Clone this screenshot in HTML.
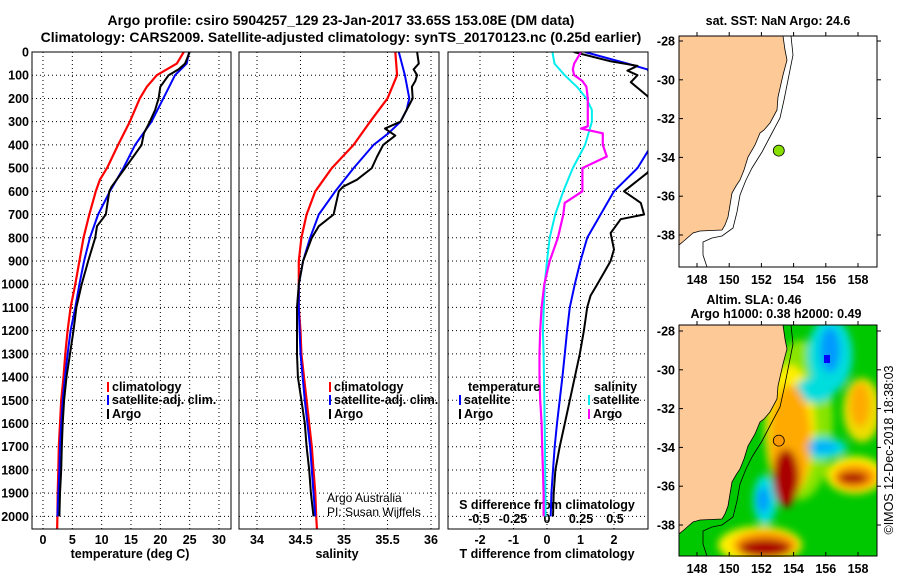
<!DOCTYPE html>
<html><head><meta charset="utf-8"><style>
html,body{margin:0;padding:0;background:#fff;}
svg{display:block;font-family:"Liberation Sans",sans-serif;}
.b{font-weight:bold;font-size:12.5px;}
</style></head><body>
<svg id="c" width="900" height="580" viewBox="0 0 900 580" xmlns="http://www.w3.org/2000/svg">
<defs>
<clipPath id="cp1"><rect x="32" y="36" width="199" height="493"/></clipPath>
<clipPath id="cp2"><rect x="239" y="36" width="200" height="493"/></clipPath>
<clipPath id="cp3"><rect x="448" y="52" width="200" height="477"/></clipPath>
<clipPath id="cm2"><rect x="679" y="325" width="198" height="232"/></clipPath>
<filter id="bl" x="-50%" y="-50%" width="200%" height="200%"><feGaussianBlur stdDeviation="4"/></filter>
</defs>
<text x="341" y="25" text-anchor="middle" font-weight="bold" font-size="14">Argo profile: csiro 5904257_129 23-Jan-2017 33.65S 153.08E (DM data)</text>
<text x="341" y="42" text-anchor="middle" font-weight="bold" font-size="14">Climatology: CARS2009. Satellite-adjusted climatology: synTS_20170123.nc (0.25d earlier)</text>
<g id="g"></g>
</svg>
<script>
// ---------- data ----------
const depthTicks=[0,100,200,300,400,500,600,700,800,900,1000,1100,1200,1300,1400,1500,1600,1700,1800,1900,2000];
const tempTicks=[0,5,10,15,20,25,30];
const salTicks=[34,34.5,35,35.5,36];
const tdiffTicks=[-2,-1,0,1,2];
const sdiffTicks=[-0.5,-0.25,0,0.25,0.5];
const sdiffLabels=["-0.5","-0.25","0","0.25","0.5"];
const lonTicks=[148,150,152,154,156,158];
const latTicks=[-28,-30,-32,-34,-36,-38];

const climDepth=[0,50,100,150,200,300,400,500,550,600,700,800,900,1000,1100,1200,1300,1400,1500,1600,1700,1800,1900,2000,2060];
const climTemp=[24.0,22.8,19.4,17.7,16.5,14.8,12.8,10.9,9.7,9.0,7.9,6.9,6.2,5.5,4.7,4.2,3.8,3.5,3.1,2.9,2.7,2.6,2.5,2.45,2.4];
const satDepth=[0,50,100,200,300,400,500,600,700,800,900,1000,1100,1200,1300,1400,1500,1600,1700,1800,1900,2000];
const satTemp=[24.9,24.5,22.5,20.5,18.5,15.7,13.7,11.4,9.4,8.0,7.0,6.2,5.5,4.7,4.2,3.75,3.35,3.1,2.9,2.8,2.6,2.45];
const argoDepth=[0,50,75,100,150,200,250,300,350,400,450,500,580,600,700,750,800,900,1000,1100,1200,1300,1400,1500,1600,1700,1800,1900,2000];
const argoTemp=[25.0,24.2,23.1,21.4,20.0,19.7,19.1,18.2,17.2,16.8,15.4,14.0,11.7,11.3,10.7,9.2,8.9,7.7,6.6,5.7,5.2,4.6,4.0,3.6,3.35,3.2,3.1,2.9,2.8];

const climSalDepth=[0,100,200,300,400,500,600,700,800,900,1000,1100,1200,1300,1400,1500,1600,1700,1800,1900,2000,2060];
const climSal=[35.59,35.61,35.50,35.30,35.11,34.86,34.67,34.57,34.51,34.48,34.48,34.48,34.50,34.51,34.54,34.57,34.60,34.63,34.65,34.67,34.68,34.69];
const satSalDepth=[0,100,200,250,300,350,400,500,600,700,800,900,1000,1100,1200,1300,1500,1700,1900,2000];
const satSal=[35.63,35.70,35.75,35.72,35.65,35.51,35.34,35.11,34.90,34.71,34.61,34.53,34.48,34.48,34.49,34.50,34.55,34.61,34.65,34.67];
const argoSalDepth=[0,50,75,100,125,150,200,250,300,330,360,400,450,500,550,580,600,700,750,800,900,1000,1100,1200,1300,1400,1500,1600,1700,1800,1900,2000];
const argoSal=[35.84,35.86,35.80,35.84,35.82,35.78,35.79,35.72,35.65,35.47,35.59,35.45,35.38,35.32,35.15,34.99,34.94,34.88,34.71,34.63,34.53,34.48,34.46,34.46,34.46,34.47,34.51,34.55,34.57,34.60,34.62,34.65];

const tdSatDepth=[0,50,75,100,200,300,430,500,600,700,800,900,1000,1100,1200,1300,1400,1500,1600,1700,1800,1900,2000];
const tdSat=[1.13,2.4,3.0,3.1,3.8,3.7,3.0,2.7,2.0,1.6,1.2,1.0,0.83,0.68,0.6,0.53,0.46,0.38,0.3,0.23,0.18,0.13,0.11];
const tdArgoDepth=[0,40,60,80,100,130,190,300,400,520,600,650,700,720,780,850,900,950,1000,1050,1100,1200,1300,1400,1500,1600,1700,1800,1900,2000];
const tdArgo=[0.8,1.9,2.7,2.4,2.7,2.5,3.0,3.6,3.5,3.0,2.3,2.8,2.9,2.2,1.9,2.0,1.9,1.7,1.5,1.3,1.2,1.1,0.98,0.83,0.68,0.53,0.38,0.25,0.2,0.18];
const sdSatDepth=[0,50,100,150,200,250,300,400,500,600,700,800,900,1000,1200,1300,1500,1700,2000];
const sdSat=[0.04,0.055,0.13,0.22,0.29,0.33,0.33,0.28,0.19,0.12,0.06,0.02,0,-0.017,-0.03,-0.025,-0.02,-0.015,-0.01];
const sdArgoDepth=[0,30,50,75,100,125,150,200,320,330,350,400,450,500,600,650,700,800,900,1000,1100,1200,1300,1400,1500,1600,1700,1800,1900,2000];
const sdArgo=[0.25,0.22,0.2,0.19,0.2,0.26,0.29,0.3,0.3,0.25,0.41,0.41,0.44,0.26,0.26,0.13,0.12,0.08,0.02,-0.02,-0.04,-0.05,-0.055,-0.055,-0.05,-0.04,-0.035,-0.03,-0.025,-0.025];

const argoLon=153.08, argoLat=-33.65;

// ---------- helpers ----------
const NS="http://www.w3.org/2000/svg";
const G=document.getElementById('g');
function mk(tag,attrs,parent){const e=document.createElementNS(NS,tag);for(const k in attrs)e.setAttribute(k,attrs[k]);(parent||G).appendChild(e);return e;}
function txt(x,y,s,attrs,parent){const e=mk('text',Object.assign({x:x,y:y},attrs||{}),parent);e.textContent=s;return e;}
const yD=d=>52+d*0.2322;
const xT=t=>43+t*5.867;
const xS=s=>257+(s-34)*87;
const xTD=v=>547+v*33.5;
const xSD=v=>547+v*136;
const xLon=l=>697+(l-148)*16.1;
const yLat1=l=>41+(-28-l)*19.4;
const yLat2=l=>331+(-28-l)*19.4;

function panel(x0,x1,name){
  const g=mk('g',{});
  
  
  for(const d of depthTicks){ if(d>0) mk('line',{x1:x0,x2:x1,y1:yD(d),y2:yD(d),stroke:'#000','stroke-dasharray':'1,3','stroke-width':1},g);}
  return g;
}
function vgrid(g,xs){for(const x of xs) mk('line',{x1:x,x2:x,y1:52,y2:529,stroke:'#000','stroke-dasharray':'1,3','stroke-width':1},g);}
function frame(g,x0,x1,y0,y1){mk('rect',{x:x0,y:y0,width:x1-x0,height:y1-y0,fill:'none',stroke:'#000','stroke-width':1},g);}
function line(g,xs,ys,fx,col,w,clip,name){
  let p='';for(let i=0;i<xs.length;i++)p+=(i?'L':'M')+fx(xs[i]).toFixed(1)+','+yD(ys[i]).toFixed(1);
  const e=mk('path',{d:p,fill:'none',stroke:col,'stroke-width':w,'clip-path':'url(#'+clip+')','stroke-linejoin':'round'},g);
  
  
}
const TICKY=544, TITY=558;

// ---------- panel 1 ----------
const p1=panel(32,231,'temperature-panel');
vgrid(p1,tempTicks.map(xT));
for(const d of depthTicks){txt(29,yD(d)+4.5,String(d),{'text-anchor':'end',class:'b'},p1);}
for(const t of tempTicks){txt(xT(t),TICKY,String(t),{'text-anchor':'middle',class:'b'},p1);}
txt(130,TITY,'temperature (deg C)',{'text-anchor':'middle',class:'b'},p1);
line(p1,climTemp,climDepth,xT,'#f00',2.2,'cp1','temp-climatology-line');
line(p1,satTemp,satDepth,xT,'#00f',2,'cp1','temp-satellite-line');
line(p1,argoTemp,argoDepth,xT,'#000',2,'cp1','temp-argo-line');
frame(p1,32,231,52,529);
function leg(g,x,y,col,label,name){
  mk('rect',{x:x,y:y-9,width:2,height:10,fill:col},g);
  const t=txt(x+5,y,label,{class:'b'},g);
  
  
}
leg(p1,107,391,'#f00','climatology','legend-climatology');
leg(p1,107,404,'#00f','satellite-adj. clim.','legend-satellite');
leg(p1,107,418,'#000','Argo','legend-argo');

// ---------- panel 2 ----------
const p2=panel(239,439,'salinity-panel');
vgrid(p2,salTicks.map(xS));
for(const s of salTicks){txt(xS(s),TICKY,String(s),{'text-anchor':'middle',class:'b'},p2);}
txt(337,TITY,'salinity',{'text-anchor':'middle',class:'b'},p2);
line(p2,climSal,climSalDepth,xS,'#f00',2.2,'cp2','sal-climatology-line');
line(p2,satSal,satSalDepth,xS,'#00f',2,'cp2','sal-satellite-line');
line(p2,argoSal,argoSalDepth,xS,'#000',2,'cp2','sal-argo-line');
frame(p2,239,439,52,529);
leg(p2,329,391,'#f00','climatology','legend-sal-climatology');
leg(p2,329,404,'#00f','satellite-adj. clim.','legend-sal-satellite');
leg(p2,329,418,'#000','Argo','legend-sal-argo');
txt(327,502,'Argo Australia',{'font-size':'12px'},p2);
txt(327,516,'PI: Susan Wijffels',{'font-size':'12px'},p2);

// ---------- panel 3 ----------
const p3=panel(448,648,'difference-panel');
vgrid(p3,tdiffTicks.map(xTD));
for(const v of tdiffTicks){txt(xTD(v),TICKY,String(v),{'text-anchor':'middle',class:'b'},p3);}
txt(547,TITY,'T difference from climatology',{'text-anchor':'middle',class:'b'},p3);
sdiffTicks.forEach((v,i)=>txt(xSD(v),523,sdiffLabels[i],{'text-anchor':'middle',class:'b'},p3));
txt(547,509,'S difference from climatology',{'text-anchor':'middle',class:'b'},p3);
line(p3,tdSat,tdSatDepth,xTD,'#00f',2,'cp3','tdiff-satellite-line');
line(p3,tdArgo,tdArgoDepth,xTD,'#000',2,'cp3','tdiff-argo-line');
line(p3,sdSat,sdSatDepth,xSD,'#0ee',2,'cp3','sdiff-satellite-line');
line(p3,sdArgo,sdArgoDepth,xSD,'#f0f',2.2,'cp3','sdiff-argo-line');
frame(p3,448,648,52,529);
txt(468,391,'temperature',{class:'b'},p3);
leg(p3,459,404,'#00f','satellite','legend-tdiff-satellite');
leg(p3,459,418,'#000','Argo','legend-tdiff-argo');
txt(594,391,'salinity',{class:'b'},p3);
leg(p3,588,404,'#0ee','satellite','legend-sdiff-satellite');
leg(p3,588,418,'#f0f','Argo','legend-sdiff-argo');

// ---------- maps ----------
const coast=[[783,36],[785,50],[787,60],[783,75],[778,97],[777,110],[770,123],[764,130],[760,133],[755,145],[748,157],[744,170],[740,180],[736,186],[732,193],[730,205],[728,217],[725,225],[722,230],[700,231],[693,233],[685,240],[679,245]];
const shelf=[[791,36],[793,55],[788,80],[784,100],[780,118],[772,133],[762,152],[752,168],[746,180],[740,195],[737,212],[733,228],[722,236],[712,238],[703,242],[703,255],[707,267]];
function mapPanel(oy,yLat,name,sla){
  const g=mk('g',{});
  
  
  const y0=oy, y1=oy+231;
  if(sla){
    mk('rect',{x:679,y:y0,width:198,height:231,fill:'#00c800'},g);
    const hg=mk('g',{'clip-path':'url(#cm2)'},g);
    const hb=mk('g',{filter:'url(#bl)'},hg);
    const layers=[
      [800,420,66,160,'#88e400'],[790,430,50,130,'#ffee00'],[760,545,84,38,'#ffee00'],[855,475,58,38,'#ffee00'],[862,410,38,64,'#eedd00'],
      [830,355,45,75,'#00dddd'],[822,448,50,22,'#00dddd'],[765,500,24,50,'#00dddd'],[815,390,40,25,'#00dddd'],
      [790,440,42,110,'#ffaa00'],[765,545,64,28,'#ff9900'],[855,477,44,26,'#ff9900'],[860,405,20,44,'#ffaa00'],
      [786,478,26,58,'#aa0000'],[765,548,52,18,'#aa0000'],[853,478,30,12,'#aa0000'],
      [830,350,20,45,'#0099ff'],[763,500,12,26,'#0099ff'],[822,447,30,10,'#00aaff']
    ];
    for(const b of layers) mk('ellipse',{cx:b[0],cy:b[1],rx:b[2]/2,ry:b[3]/2,fill:b[4]},hb);
    mk('rect',{x:824,y:355,width:6,height:8,fill:'#0000ff'},g);
  }
  const d=(pts,close)=>pts.map((p,i)=>(i?'L':'M')+p[0]+','+(p[1]-36+y0)).join('')+(close?'Z':'');
  const land=[[679,36]].concat(coast).concat([[679,245]]);
  const lp=mk('path',{d:d(land,true),fill:'#fdc997',stroke:'#000','stroke-width':0.8},g);
  
  
  mk('path',{d:d(shelf,false),fill:'none',stroke:'#000','stroke-width':0.8},g);
  frame(g,679,877,y0,y1);
  for(const l of lonTicks){mk('line',{x1:xLon(l),x2:xLon(l),y1:y1,y2:y1-4,stroke:'#000'},g);mk('line',{x1:xLon(l),x2:xLon(l),y1:y0,y2:y0-4,stroke:'#000'},g);txt(xLon(l),y1+17,String(l),{'text-anchor':'middle',class:'b'},g);}
  for(const l of latTicks){mk('line',{x1:679,x2:683,y1:yLat(l),y2:yLat(l),stroke:'#000'},g);mk('line',{x1:877,x2:881,y1:yLat(l),y2:yLat(l),stroke:'#000'},g);txt(675,yLat(l)+4.5,String(l),{'text-anchor':'end',class:'b'},g);}
  const c=mk('circle',{cx:xLon(argoLon),cy:yLat(argoLat),r:5.5,fill:sla?'#ff9900':'#88e000',stroke:'#000','stroke-width':0.8},g);
  
  
  return g;
}
const m1=mapPanel(36,yLat1,'sst-map',false);
txt(778,25,'sat. SST: NaN Argo: 24.6',{'text-anchor':'middle',class:'b'},m1);
const m2=mapPanel(325,yLat2,'sla-map',true);
txt(754,304,'Altim. SLA: 0.46',{'text-anchor':'middle',class:'b'},m2);
txt(776,318,'Argo h1000: 0.38 h2000: 0.49',{'text-anchor':'middle',class:'b'},m2);
const cr=txt(0,0,'©IMOS 12-Dec-2018 18:38:03',{'font-size':'12.5px',transform:'translate(893,450) rotate(-90)','text-anchor':'middle'});


</script>
</body></html>
